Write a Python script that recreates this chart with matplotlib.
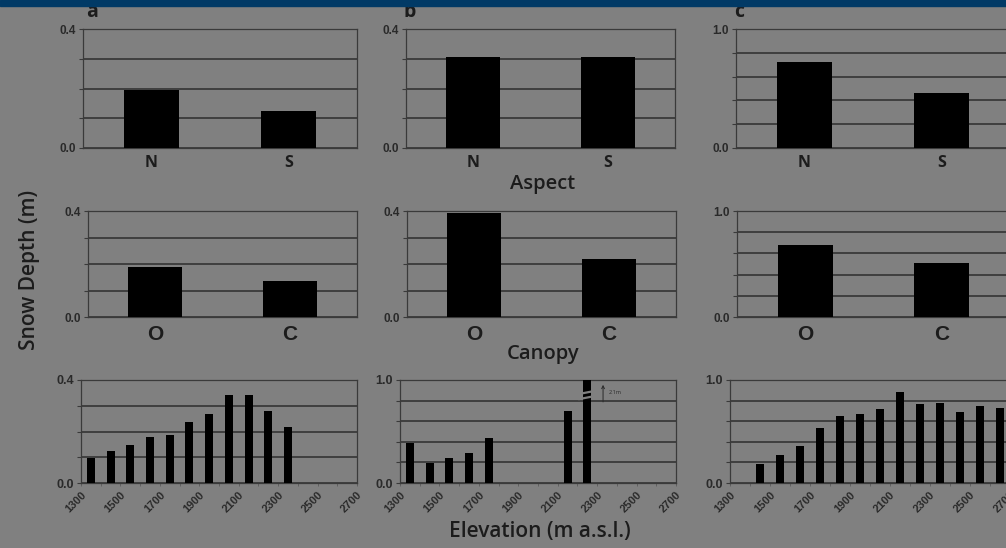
import matplotlib
matplotlib.use("Agg")
import matplotlib.pyplot as plt
import numpy as np

# ---- data ----
aspect_cats = ["N", "S"]
aspect_a = [0.195, 0.124]
aspect_b = [0.306, 0.306]
aspect_c = [0.723, 0.462]

canopy_cats = ["O", "C"]
canopy_a = [0.189, 0.136]
canopy_b = [0.392, 0.219]
canopy_c = [0.679, 0.512]

elev_a_x = [1350, 1450, 1550, 1650, 1750, 1850, 1950, 2050, 2150, 2250, 2350]
elev_a = [0.097, 0.126, 0.147, 0.178, 0.188, 0.237, 0.267, 0.341, 0.341, 0.279, 0.218]
elev_b_x = [1350, 1450, 1550, 1650, 1750, 2150, 2250]
elev_b = [0.39, 0.19, 0.246, 0.294, 0.44, 0.70, 2.1]
elev_c_x = [1450, 1550, 1650, 1750, 1850, 1950, 2050, 2150, 2250, 2350, 2450, 2550, 2650]
elev_c = [0.189, 0.269, 0.359, 0.535, 0.654, 0.667, 0.718, 0.888, 0.763, 0.776, 0.686, 0.744, 0.724]
elev_ticks = [1300, 1500, 1700, 1900, 2100, 2300, 2500, 2700]

BG = "#808080"; TXT = "#1c1c1c"; GRID = "#3a3a3a"
W, H = 1006, 548
fig = plt.figure(figsize=(W / 100, H / 100), dpi=100, facecolor=BG)
plt.rcParams["font.family"] = ["Open Sans", "DejaVu Sans"]

def rect(l, t, r, b):
    return [l / W, 1 - b / H, (r - l) / W, (b - t) / H]

def style(ax, ymax, step):
    ax.set_facecolor(BG)
    for s in ax.spines.values():
        s.set_color(GRID); s.set_linewidth(0.9)
    ticks = np.round(np.arange(0, ymax + step / 2, step), 2)
    ax.set_yticks(ticks)
    ax.set_yticklabels(["%.1f" % t if t in (0, ymax) else "" for t in ticks],
                       fontsize=8.5, fontweight="bold", color="#2a2a2a", family="Liberation Sans")
    ax.set_ylim(0, ymax)
    ax.yaxis.grid(True, color=GRID, lw=1.3)
    ax.set_axisbelow(True)
    ax.tick_params(axis="y", length=3, width=0.8, color=GRID, pad=2)

def cat_panel(pos, cats, vals, ymax, step, fs, fam, pad):
    ax = fig.add_axes(rect(*pos))
    style(ax, ymax, step)
    ax.bar(np.arange(len(cats)), vals, 0.4, color="black", zorder=3)
    ax.set_xlim(-0.5, 1.5)
    ax.set_xticks(np.arange(len(cats)))
    ax.set_xticklabels(cats, fontsize=fs, fontweight="bold", color=TXT, family=fam)
    ax.tick_params(axis="x", length=0, pad=pad)
    return ax

def elev_panel(pos, xs, vals, ymax, step):
    ax = fig.add_axes(rect(*pos))
    style(ax, ymax, step)
    ax.tick_params(axis="y", labelsize=9)
    ax.bar(xs, vals, 40, color="black", zorder=3)
    ax.set_xlim(1300, 2700)
    ax.set_xticks(elev_ticks)
    ax.set_xticks(np.arange(1400, 2700, 200), minor=True)
    ax.set_xticklabels([str(t) for t in elev_ticks], rotation=45, ha="right", va="top",
                       rotation_mode="anchor", fontsize=8, fontweight="bold", color="#2a2a2a",
                       family="Liberation Sans")
    ax.tick_params(axis="x", which="both", length=2, width=0.6, color="#5a5a5a", pad=3)
    return ax

# row 1: aspect
cat_panel((83, 29, 357, 148), aspect_cats, aspect_a, 0.4, 0.1, 11.5, "Open Sans", 5)
cat_panel((406, 29, 675, 148), aspect_cats, aspect_b, 0.4, 0.1, 11.5, "Open Sans", 5)
cat_panel((736, 29, 1010, 148), aspect_cats, aspect_c, 1.0, 0.2, 11.5, "Open Sans", 5)
# row 2: canopy
cat_panel((88, 211, 357, 317), canopy_cats, canopy_a, 0.4, 0.1, 15, "Liberation Sans", 6)
cat_panel((407, 211, 676, 317), canopy_cats, canopy_b, 0.4, 0.1, 15, "Liberation Sans", 6)
cat_panel((737, 211, 1010, 317), canopy_cats, canopy_c, 1.0, 0.2, 15, "Liberation Sans", 6)
# row 3: elevation
elev_panel((81, 380, 357, 483), elev_a_x, elev_a, 0.4, 0.1)
axh = elev_panel((400, 380, 676, 483), elev_b_x, elev_b, 1.0, 0.2)
elev_panel((730, 380, 1010, 483), elev_c_x, elev_c, 1.0, 0.2)

# axis break on the off-scale bar + its value
xb = elev_b_x[-1]
for dy in (0.0, 0.05):
    axh.plot([xb - 40, xb + 40], [0.815 + dy, 0.845 + dy], color=BG, lw=1.6, zorder=4, clip_on=False)
axh.annotate("", xy=(xb + 80, 0.98), xytext=(xb + 80, 0.76),
             arrowprops=dict(arrowstyle="->", color="#2a2a2a", lw=0.7, mutation_scale=5))
axh.text(xb + 110, 0.88, "%.1fm" % elev_b[-1], fontsize=4, color="#2a2a2a", va="center")

# shared labels
fig.text(543 / W, 1 - 184 / H, "Aspect", ha="center", va="center", fontsize=14.5,
         fontweight="semibold", color=TXT)
fig.text(543 / W, 1 - 354 / H, "Canopy", ha="center", va="center", fontsize=14.5,
         fontweight="semibold", color=TXT)
fig.text(540 / W, 1 - 531 / H, "Elevation (m a.s.l.)", ha="center", va="center", fontsize=15,
         fontweight="semibold", color=TXT)
fig.text(30 / W, 1 - 270 / H, "Snow Depth (m)", ha="center", va="center", rotation=90,
         fontsize=15, fontweight="semibold", color=TXT)
for lx, s in [(92, "a"), (410, "b"), (739, "c")]:
    fig.text(lx / W, 1 - 12 / H, s, ha="center", va="center", fontsize=14, fontweight="bold", color=TXT)

# dark band across the top edge
fig.patches.append(plt.Rectangle((0, 1 - 6 / H), 1, 6 / H, transform=fig.transFigure,
                                 color="#013a66", zorder=10))

fig.savefig("out.png", dpi=100, facecolor=BG)
